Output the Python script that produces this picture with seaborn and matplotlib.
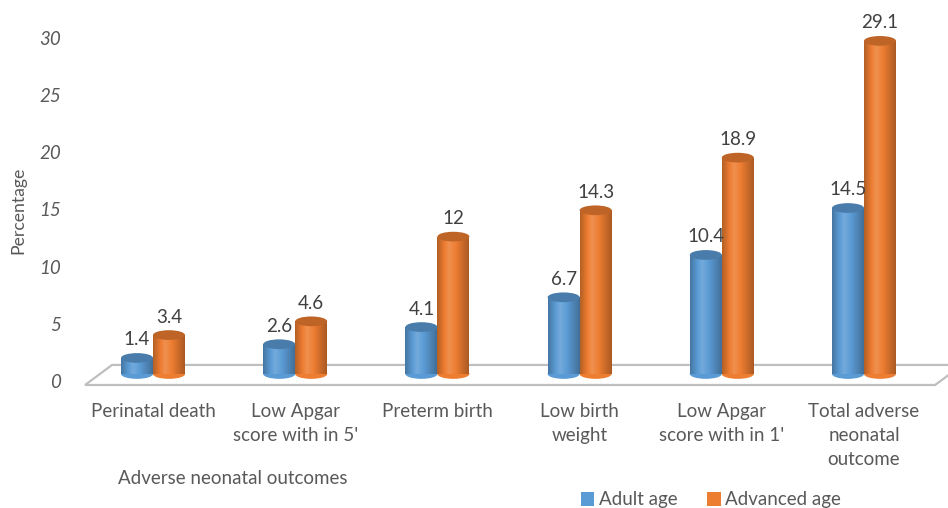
import numpy as np
import pandas as pd
import matplotlib
matplotlib.use("Agg")
import matplotlib.pyplot as plt
import matplotlib.transforms as mtransforms
import seaborn as sns
from matplotlib.patches import Ellipse, Polygon, Patch

# Adverse neonatal outcomes by maternal age group (percentage)
categories = [
    "Perinatal death",
    "Low Apgar\nscore with in 5'",
    "Preterm birth",
    "Low birth\nweight",
    "Low Apgar\nscore with in 1'",
    "Total adverse\nneonatal\noutcome",
]
groups = ["Adult age", "Advanced age"]
adult_age = [1.4, 2.6, 4.1, 6.7, 10.4, 14.5]
advanced_age = [3.4, 4.6, 12, 14.3, 18.9, 29.1]
y_ticks = [0, 5, 10, 15, 20, 25, 30]

colors = {"Adult age": "#5B9BD5", "Advanced age": "#ED7D31"}
text_color = "#595959"
fs = 13.5

df = pd.DataFrame({
    "outcome": categories * 2,
    "group": [groups[0]] * len(categories) + [groups[1]] * len(categories),
    "value": adult_age + advanced_age,
})

sns.set_style("white")
plt.rcParams["font.family"] = ["Lato", "DejaVu Sans"]

fig = plt.figure(figsize=(9.48, 5.08), dpi=100)
ax = fig.add_axes([0.0864, 0.2638, 0.9, 0.676])

sns.barplot(data=df, x="outcome", y="value", hue="group", palette=colors,
            width=0.45, gap=0, saturation=1, legend=False, ax=ax, zorder=1)

ax.set_xlim(-0.5, len(categories) - 0.5)
ax.set_ylim(0, 30)

# height of the elliptical cylinder caps, in data units
cap_h = 0.85


def shade_row(rgb, n=64):
    t = np.linspace(0, 1, n)
    f = np.where(t < 0.38, 0.76 + (1.15 - 0.76) * (t / 0.38),
                 1.15 - (1.15 - 0.72) * ((t - 0.38) / 0.62))
    row = np.empty((1, n, 3))
    base = np.array(rgb)
    for i, k in enumerate(f):
        if k <= 1:
            row[0, i] = base * k
        else:
            row[0, i] = base + (1 - base) * (k - 1)
    return np.clip(row, 0, 1)


series_values = [adult_age, advanced_age]
for container, values in zip(ax.containers, series_values):
    for bar, v in zip(container.patches, values):
        x0, w = bar.get_x(), bar.get_width()
        xc = x0 + w / 2
        rgb = bar.get_facecolor()[:3]
        grad = shade_row(rgb)
        bar.set_edgecolor("none")
        # rounded bottom of the cylinder
        bottom = Ellipse((xc, 0), w, cap_h, facecolor=rgb, edgecolor="none",
                         zorder=1.5, clip_on=False)
        ax.add_patch(bottom)
        im_b = ax.imshow(grad, extent=[x0, x0 + w, -cap_h / 2, cap_h / 2],
                         aspect="auto", zorder=1.6, interpolation="bilinear")
        im_b.set_clip_path(bottom)
        # shaded body
        im = ax.imshow(grad, extent=[x0, x0 + w, 0, v], aspect="auto",
                       zorder=2, interpolation="bilinear")
        im.set_clip_path(bar)
        # top cap
        top = Ellipse((xc, v), w, cap_h,
                      facecolor=tuple(np.array(rgb) * 0.8), edgecolor="none",
                      zorder=2.5, clip_on=False)
        ax.add_patch(top)
        ax.annotate(f"{v:g}", (xc, v), xytext=(0, 13), textcoords="offset points",
                    ha="center", va="center", fontsize=fs, color="#404040")

ax.set_xlim(-0.5, len(categories) - 0.5)
ax.set_ylim(0, 30)

# floor of the plot area
xl, xr = ax.get_xlim()
floor = Polygon([(xl + 0.022, -0.96), (xr, -0.96), (xr + 0.19, 0.79),
                 (xl + 0.212, 0.79)], closed=True, facecolor="white",
                edgecolor="#BFBFBF", linewidth=1.6, zorder=0.5, clip_on=False)
ax.add_patch(floor)

for s in ax.spines.values():
    s.set_visible(False)
ax.set_yticks(y_ticks)
ax.set_yticklabels([str(t) for t in y_ticks], fontstyle="italic")
ax.tick_params(axis="y", length=0, pad=15, labelsize=fs, labelcolor=text_color)
ax.tick_params(axis="x", length=0, pad=21, labelsize=fs, labelcolor=text_color)
shift = mtransforms.ScaledTranslation(0, -7 / 100, fig.dpi_scale_trans)
for lbl in ax.get_yticklabels():
    lbl.set_transform(lbl.get_transform() + shift)
for lbl in ax.get_xticklabels():
    lbl.set_linespacing(1.5)
ax.set_xlabel("")
ax.set_ylabel("")
ax.grid(False)

fig.text(18 / 948, 1 - 210 / 508, "Percentage", rotation=90, ha="center",
         va="center", fontsize=12.7, color=text_color)
fig.text(118 / 948, 1 - 478 / 508, "Adverse neonatal outcomes", ha="left",
         va="center", fontsize=fs, color=text_color)

handles = [Patch(facecolor=colors[g], edgecolor="none") for g in groups]
fig.legend(handles, groups, loc="center left",
           bbox_to_anchor=(581 / 948, 1 - 500 / 508), ncol=2, frameon=False,
           handlelength=0.7, handleheight=0.7, handletextpad=0.25,
           columnspacing=1.6, fontsize=fs, labelcolor=text_color,
           borderaxespad=0, borderpad=0)

fig.savefig("out.png", dpi=100, facecolor="white")
